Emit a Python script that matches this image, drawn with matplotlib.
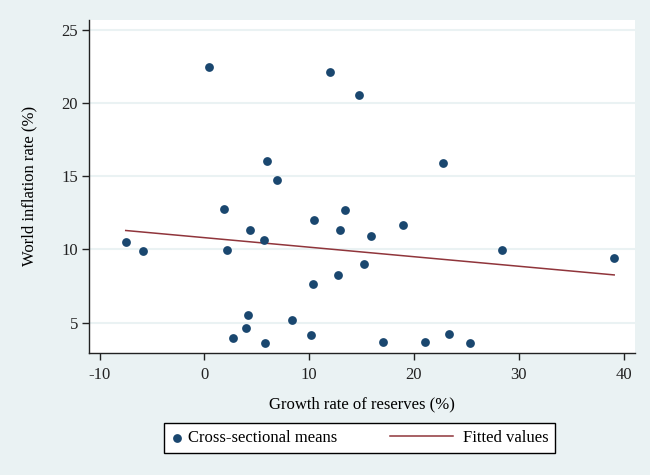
import numpy as np
import matplotlib
matplotlib.use('Agg')
import matplotlib.pyplot as plt
from matplotlib.lines import Line2D
from matplotlib.legend_handler import HandlerLine2D

# reserves growth (%) and world inflation (%) - cross-sectional means
growth = [0.43, 11.96, 14.76, 5.97, 6.89, 1.9, 13.45, 10.43, 4.38, 12.94,
          15.87, -7.5, 5.65, -5.87, 2.12, 15.23, 12.78, 10.4, 4.19, 8.33,
          4.0, 2.72, 10.17, 5.75, 17.05, 22.75, 18.96, 28.41, 39.11, 21.09,
          23.35, 25.36]
inflation = [22.48, 22.14, 20.52, 16.06, 14.74, 12.74, 12.67, 12.01, 11.33, 11.31,
             10.94, 10.51, 10.65, 9.88, 9.99, 8.99, 8.26, 7.65, 5.53, 5.16,
             4.66, 3.98, 4.14, 3.64, 3.69, 15.93, 11.69, 9.94, 9.4, 3.66,
             4.25, 3.64]
xticks = [-10, 0, 10, 20, 30, 40]
yticks = [5, 10, 15, 20, 25]

bg = '#eaf2f3'
navy = '#1a476f'
maroon = '#90353b'

plt.rcParams['font.family'] = ['Liberation Serif', 'DejaVu Serif']
plt.rcParams['axes.unicode_minus'] = False


# legend line that reaches back to the left of its (short) handle box
class LongLine(HandlerLine2D):
    def create_artists(self, legend, orig_handle, xdescent, ydescent,
                       width, height, fontsize, trans):
        x1 = -xdescent + width - 3.5
        x0 = x1 - 45.5
        yc = -ydescent + height / 2
        ln = Line2D([x0, x1], [yc, yc], color=orig_handle.get_color(),
                    lw=orig_handle.get_linewidth())
        ln.set_transform(trans)
        return [ln]


fig = plt.figure(figsize=(6.5, 4.75), dpi=100, facecolor=bg)
ax = fig.add_axes([0.137, 0.257, 0.84, 0.701])
ax.set_facecolor('white')

x = np.array(growth)
y = np.array(inflation)

# linear fit (like twoway lfit)
b, a = np.polyfit(x, y, 1)
xf = np.array([x.min(), x.max()])
yf = a + b * xf

sc = ax.scatter(x, y, s=40, color=navy, zorder=3, label='Cross-sectional means',
                linewidths=0)
fl, = ax.plot(xf, yf, color=maroon, lw=1.1, zorder=2, label='Fitted values')

ax.set_xlim(-11.0, 41.1)
ax.set_ylim(2.94, 25.66)
ax.set_xticks(xticks)
ax.set_yticks(yticks)
ax.grid(axis='y', color=bg, lw=1.5, zorder=0)
ax.set_axisbelow(True)

for s in ['top', 'right']:
    ax.spines[s].set_visible(False)
for s in ['left', 'bottom']:
    ax.spines[s].set_color('#222222')
    ax.spines[s].set_linewidth(1.0)

ax.tick_params(direction='out', length=5, width=1, labelsize=12,
               colors='#222222')
ax.tick_params(axis='x', pad=5)
ax.tick_params(axis='y', pad=3)
ax.set_xlabel('Growth rate of reserves (%)', fontsize=12, labelpad=10)
ax.set_ylabel('World inflation rate (%)', fontsize=12, labelpad=17)

leg = fig.legend(handles=[sc, fl], loc='center', bbox_to_anchor=(0.553, 0.078),
                 ncol=2, fontsize=12, frameon=True, fancybox=False,
                 edgecolor='black', facecolor='white', framealpha=1,
                 handlelength=0.8, handletextpad=0.25, columnspacing=6.45,
                 borderpad=0.4, scatterpoints=1,
                 handler_map={Line2D: LongLine()})
leg.get_frame().set_linewidth(1.0)

fig.savefig('out.png', dpi=100, facecolor=bg)
